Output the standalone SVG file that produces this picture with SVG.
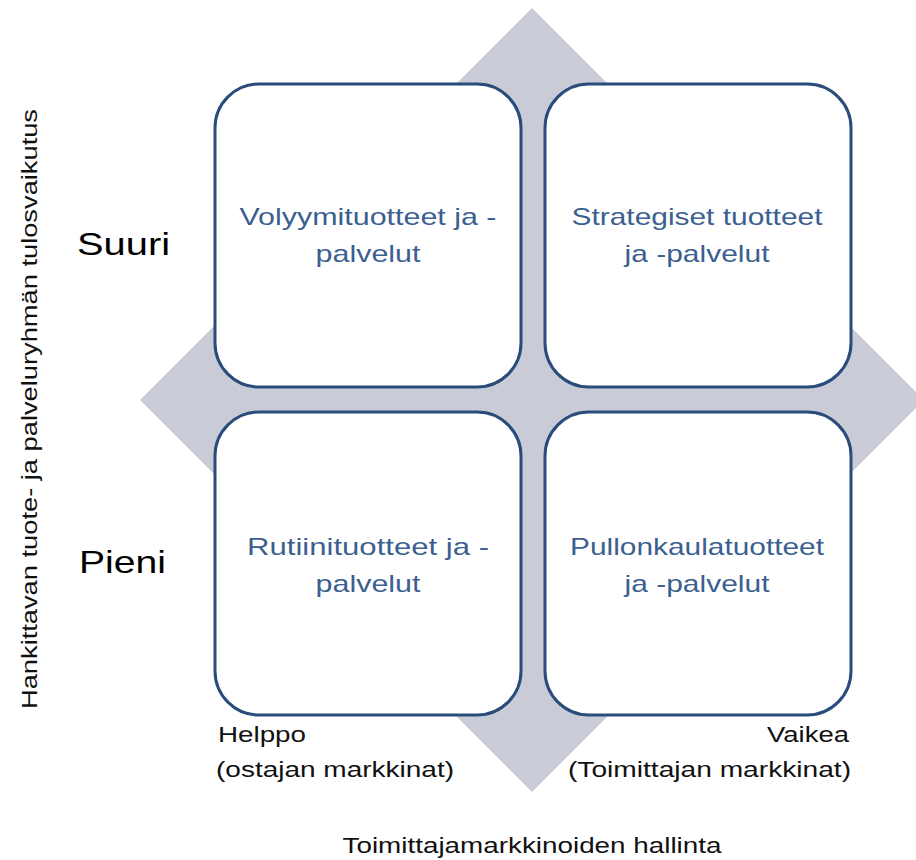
<svg xmlns="http://www.w3.org/2000/svg" width="916" height="860" viewBox="0 0 916 860">
  <style>
    .box { fill: #ffffff; stroke: #2a4c7c; stroke-width: 3; }
    .inner { font-family: "Liberation Sans", Arial, sans-serif; font-size: 24px; fill: #3c5f90; text-anchor: middle; }
    .axis { font-family: "Liberation Sans", Arial, sans-serif; font-size: 22px; fill: #111111; }
    .level { font-family: "Liberation Sans", Arial, sans-serif; font-size: 32px; fill: #000000; }
  </style>

  <!-- background diamond -->
  <polygon id="diamond" points="532,8 924,400 532,792 140,400" fill="#c9ccd6"/>

  <!-- quadrants -->
  <g id="volume">
    <rect class="box" x="215" y="84" width="306" height="303" rx="44" ry="44"/>
    <text class="inner" x="368" y="225" textLength="257" lengthAdjust="spacingAndGlyphs">Volyymituotteet  ja -</text>
    <text class="inner" x="368" y="262" textLength="105" lengthAdjust="spacingAndGlyphs">palvelut</text>
  </g>
  <g id="strategic">
    <rect class="box" x="545" y="84" width="306" height="303" rx="44" ry="44"/>
    <text class="inner" x="697" y="225" textLength="251" lengthAdjust="spacingAndGlyphs">Strategiset tuotteet</text>
    <text class="inner" x="697" y="262" textLength="145" lengthAdjust="spacingAndGlyphs">ja -palvelut</text>
  </g>
  <g id="routine">
    <rect class="box" x="215" y="412" width="306" height="303" rx="44" ry="44"/>
    <text class="inner" x="368" y="555" textLength="242" lengthAdjust="spacingAndGlyphs">Rutiinituotteet ja -</text>
    <text class="inner" x="368" y="592" textLength="105" lengthAdjust="spacingAndGlyphs">palvelut</text>
  </g>
  <g id="bottleneck">
    <rect class="box" x="545" y="412" width="306" height="303" rx="44" ry="44"/>
    <text class="inner" x="697" y="555" textLength="254" lengthAdjust="spacingAndGlyphs">Pullonkaulatuotteet</text>
    <text class="inner" x="697" y="592" textLength="145" lengthAdjust="spacingAndGlyphs">ja -palvelut</text>
  </g>

  <!-- row levels -->
  <text class="level" x="77" y="255" textLength="93" lengthAdjust="spacingAndGlyphs">Suuri</text>
  <text class="level" x="79" y="573" textLength="87" lengthAdjust="spacingAndGlyphs">Pieni</text>

  <!-- vertical axis title -->
  <text class="axis" transform="translate(37,409) rotate(-90)" x="0" y="0" text-anchor="middle" textLength="600" lengthAdjust="spacingAndGlyphs">Hankittavan tuote- ja palveluryhmän tulosvaikutus</text>

  <!-- horizontal axis ends -->
  <text class="axis" x="218" y="742" textLength="88" lengthAdjust="spacingAndGlyphs">Helppo</text>
  <text class="axis" x="216" y="777" textLength="238" lengthAdjust="spacingAndGlyphs">(ostajan markkinat)</text>
  <text class="axis" x="849" y="742" text-anchor="end" textLength="82" lengthAdjust="spacingAndGlyphs">Vaikea</text>
  <text class="axis" x="851" y="777" text-anchor="end" textLength="283" lengthAdjust="spacingAndGlyphs">(Toimittajan markkinat)</text>

  <!-- horizontal axis title -->
  <text class="axis" x="532" y="853" text-anchor="middle" textLength="379" lengthAdjust="spacingAndGlyphs">Toimittajamarkkinoiden hallinta</text>
</svg>
